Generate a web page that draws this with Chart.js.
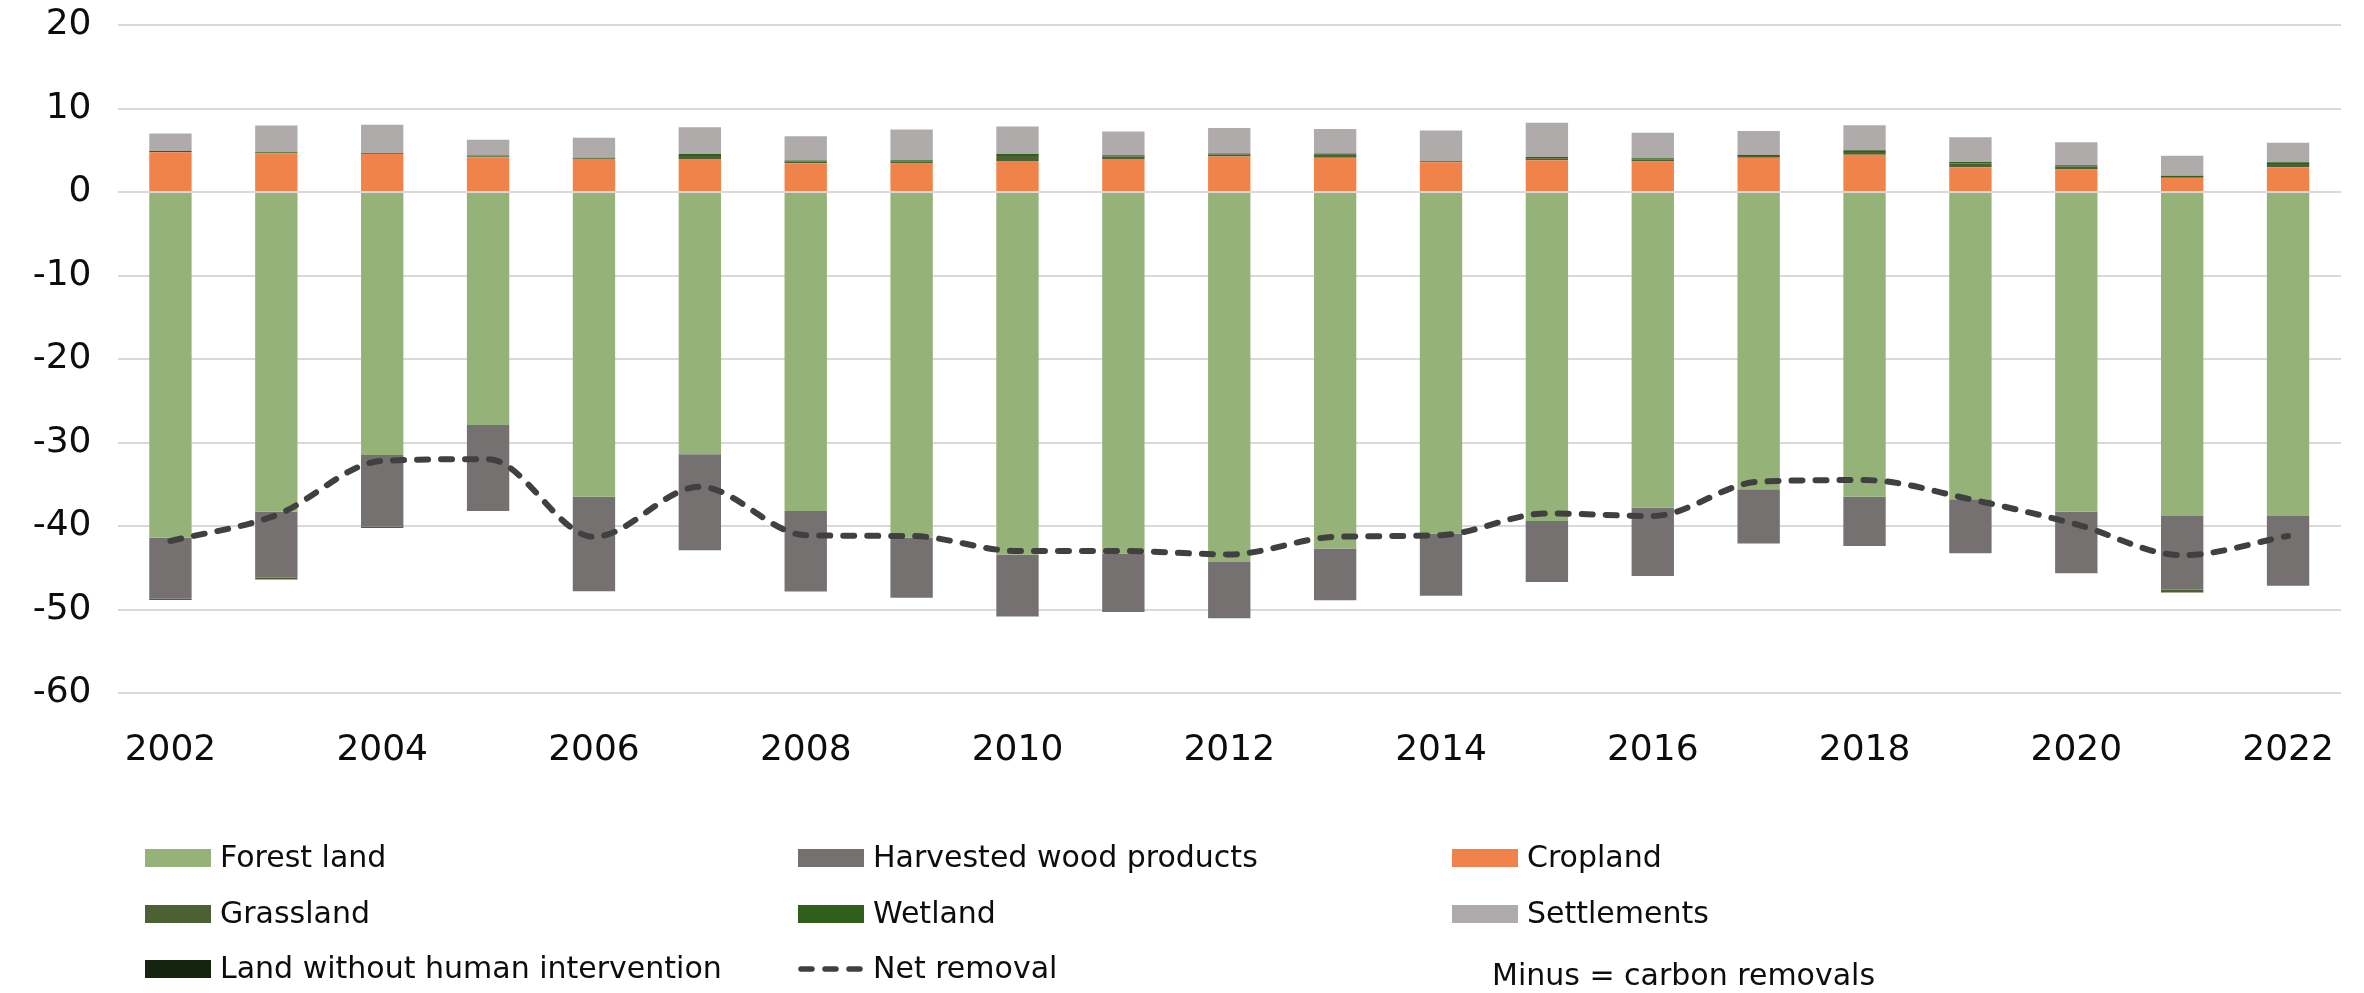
<!DOCTYPE html>
<html>
<head>
<meta charset="utf-8">
<script src="https://cdn.jsdelivr.net/npm/chart.js@4/dist/chart.umd.min.js"></script>
<style>
html,body{margin:0;padding:0;background:#fff;}
#wrap{width:2364px;height:993px;position:relative;}
canvas{display:block;}
</style>
</head>
<body>
<div id="wrap"><canvas id="c" width="2364" height="993"></canvas></div>
<script>
// ---- data ----
const years = ['2002','2003','2004','2005','2006','2007','2008','2009','2010','2011','2012','2013','2014','2015','2016','2017','2018','2019','2020','2021','2022'];
const forestLand = [-41.4,-38.3,-31.5,-27.9,-36.5,-31.4,-38.2,-41.4,-43.4,-43.3,-44.3,-42.7,-40.9,-39.4,-37.8,-35.6,-36.5,-36.8,-38.3,-38.8,-38.8];
const harvestedWood = [-7.3,-7.9,-8.55,-10.3,-11.3,-11.5,-9.65,-7.2,-7.45,-7.0,-6.75,-6.2,-7.45,-7.3,-8.2,-6.5,-5.9,-6.45,-7.35,-8.8,-8.35];
const cropland = [4.75,4.65,4.55,4.15,3.95,3.95,3.45,3.4,3.7,3.95,4.25,4.1,3.55,3.8,3.65,4.1,4.45,2.95,2.7,1.7,2.95];
const grassland = [-0.15,-0.2,-0.2,0.1,0.1,0.35,0.2,0.25,0.6,0.3,0.25,0.35,0.0,0.25,0.25,0.2,0.35,0.45,0.35,-0.35,0.4];
const wetland = [0.15,0.12,0.1,0.12,0.05,0.25,0.12,0.15,0.25,0.15,0.12,0.15,0.12,0.15,0.15,0.12,0.2,0.2,0.15,0.25,0.2];
const settlements = [2.1,3.2,3.4,1.9,2.4,3.2,2.9,3.7,3.3,2.85,3.05,2.95,3.7,4.1,3.05,2.9,3.0,2.95,2.75,2.4,2.35];
const landWithoutHuman = [0,0,0,0,0,0,0,0,0,0,0,0,0,0,0,0,0,0,0,0,0];
const netRemoval = [-41.8,-38.7,-32.2,-32.0,-41.3,-35.3,-41.1,-41.2,-43.0,-43.0,-43.4,-41.3,-41.1,-38.5,-38.8,-34.7,-34.5,-36.8,-39.8,-43.5,-41.2];
const yMin = -60, yMax = 20, yStep = 10;
const noteText = 'Minus = carbon removals';

const FONT = '"DejaVu Sans", "Liberation Sans", sans-serif';
const TEXT = '#0d0d0d';

const legendPlugin = {
  id: 'gridLegend',
  afterDraw(chart) {
    const ctx = chart.ctx;
    const cols = [145, 798, 1452];
    const rows = [858, 914, 969];
    chart.data.datasets.forEach((ds, i) => {
      const x = cols[i % 3], y = rows[Math.floor(i / 3)];
      ctx.save();
      if (ds.type === 'line') {
        ctx.strokeStyle = ds.borderColor;
        ctx.lineWidth = 5.5;
        ctx.lineCap = 'round';
        ctx.setLineDash([11, 13]);
        ctx.beginPath();
        ctx.moveTo(x + 3, y);
        ctx.lineTo(x + 66, y);
        ctx.stroke();
      } else {
        ctx.fillStyle = ds.backgroundColor;
        ctx.fillRect(x, y - 9, 66, 18);
      }
      ctx.setLineDash([]);
      ctx.fillStyle = TEXT;
      ctx.font = '30px ' + FONT;
      ctx.textBaseline = 'middle';
      ctx.textAlign = 'left';
      ctx.fillText(ds.label, x + 75, y + 1);
      ctx.restore();
    });
    ctx.save();
    ctx.fillStyle = TEXT;
    ctx.font = '30px ' + FONT;
    ctx.textBaseline = 'middle';
    ctx.fillText(noteText, 1492, 977);
    ctx.restore();
  }
};

const barDs = (label, data, color) => ({
  type: 'bar', label, data, backgroundColor: color, borderWidth: 0,
  stack: 'bars', order: 1, barPercentage: 0.4, categoryPercentage: 1.0
});

new Chart(document.getElementById('c'), {
  data: {
    labels: years,
    datasets: [
      barDs('Forest land', forestLand, '#95B378'),
      barDs('Harvested wood products', harvestedWood, '#767171'),
      barDs('Cropland', cropland, '#F08349'),
      barDs('Grassland', grassland, '#4B6134'),
      barDs('Wetland', wetland, '#2F5F1B'),
      barDs('Settlements', settlements, '#AFABAB'),
      barDs('Land without human intervention', landWithoutHuman, '#14240F'),
      {
        type: 'line', label: 'Net removal', data: netRemoval,
        borderColor: '#404040', backgroundColor: '#404040',
        borderWidth: 6, borderDash: [11, 13], borderCapStyle: 'round',
        pointRadius: 0, cubicInterpolationMode: 'monotone', fill: false, stack: 'net', order: 0
      }
    ]
  },
  options: {
    responsive: false,
    animation: false,
    devicePixelRatio: 1,
    layout: { padding: { top: 25, right: 23, bottom: 200, left: 0 } },
    plugins: { legend: { display: false }, tooltip: { enabled: false } },
    scales: {
      x: {
        stacked: true,
        offset: true,
        grid: { display: false, drawTicks: false },
        border: { display: false },
        ticks: {
          autoSkip: false, maxRotation: 0, minRotation: 0, padding: 36,
          color: TEXT, font: { size: 36, family: FONT },
          callback: function(v, i) { return i % 2 === 0 ? this.getLabelForValue(v) : ''; }
        },
        afterFit(scale) { scale.height = 100; scale.paddingLeft = 0; scale.paddingRight = 0; }
      },
      y: {
        stacked: true,
        min: yMin, max: yMax,
        grid: { color: '#D9D9D9', lineWidth: 2, drawTicks: false },
        border: { display: false },
        ticks: { stepSize: yStep, padding: 26, color: TEXT, font: { size: 36, family: FONT } },
        afterFit(scale) { scale.width = 117.5; scale.paddingTop = 0; scale.paddingBottom = 0; }
      }
    }
  },
  plugins: [legendPlugin]
});
</script>
</body>
</html>
